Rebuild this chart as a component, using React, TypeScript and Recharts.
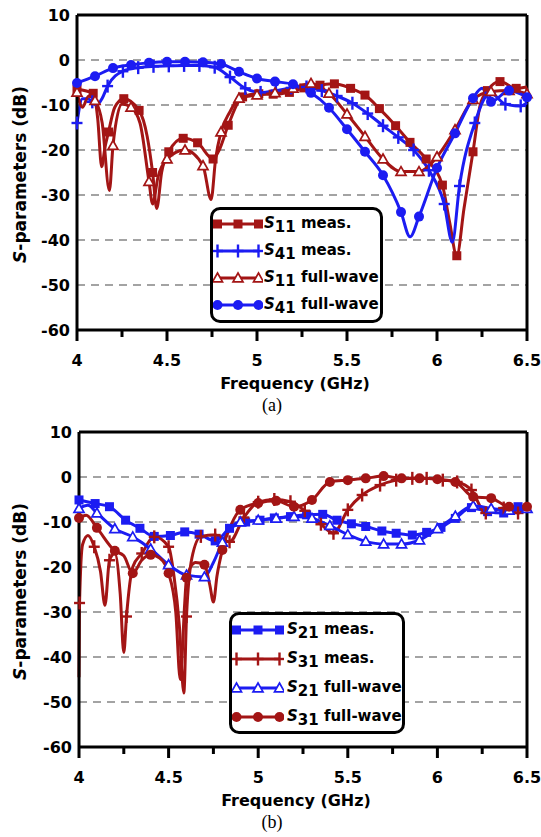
import React from 'react';
import { LineChart, Line, XAxis, YAxis, CartesianGrid, ReferenceLine, Legend } from 'recharts';

type P = [number, number];
type MarkerKind = 'square' | 'cross' | 'triangle' | 'circle';

const RED = '#A31515';
const BLUE = '#1C1CF2';
const FONT = '"DejaVu Sans", "Liberation Sans", sans-serif';

const X_TICKS = [4, 4.25, 4.5, 4.75, 5, 5.25, 5.5, 5.75, 6, 6.25, 6.5];
const Y_TICKS = [10, 0, -10, -20, -30, -40, -50, -60];

// ---------- panel (a) ----------
const A_S11_MEAS_MARKS: P[] = [
  [4.0, -6.5], [4.09, -7.4], [4.175, -16], [4.26, -8.6], [4.345, -11.2], [4.42, -25], [4.51, -20.4],
  [4.59, -17.4], [4.67, -18.4], [4.756, -22], [4.84, -14.5], [4.92, -8.2], [5.01, -7.5], [5.09, -7.6],
  [5.18, -7.2], [5.26, -6.2], [5.35, -5.6], [5.43, -5.3], [5.52, -6.3], [5.6, -7.8], [5.68, -10.8],
  [5.77, -14.6], [5.85, -18.3], [5.94, -22], [6.03, -27.8], [6.11, -43.5], [6.2, -20.4], [6.28, -6.8],
  [6.35, -4.8], [6.44, -6.3],
];
const A_S11_MEAS_EXTRA: P[] = [
  [4.115, -13], [4.137, -23.7], [4.155, -19.5], [4.21, -10.5], [4.39, -17], [4.443, -33], [4.47, -25],
  [4.79, -20], [6.07, -36], [6.15, -33], [6.24, -10], [6.5, -6],
];
const A_S41_MEAS_MARKS: P[] = [
  [4.0, -14], [4.085, -9.3], [4.17, -5.8], [4.255, -2.5], [4.34, -1.7], [4.425, -1.4], [4.51, -1.3],
  [4.595, -1.2], [4.68, -1.2], [4.765, -1.6], [4.85, -3.8], [4.935, -6.3], [5.02, -7.2], [5.105, -6.8],
  [5.19, -6.2], [5.275, -6.0], [5.36, -6.8], [5.445, -8], [5.53, -9.6], [5.615, -11.9], [5.7, -14.6],
  [5.785, -17.2], [5.87, -20], [5.955, -24.5], [6.04, -32], [6.125, -28], [6.21, -14], [6.295, -7.3],
  [6.38, -9.8], [6.465, -10.2],
];
const A_S41_MEAS_EXTRA: P[] = [
  [4.03, -8.6], [4.06, -8.6], [4.11, -10], [4.14, -8.5], [6.085, -40.5], [6.5, -9.5],
];
const A_S11_FW_MARKS: P[] = [
  [4.0, -7.2], [4.1, -9], [4.2, -19], [4.3, -10.5], [4.4, -27], [4.5, -22], [4.6, -20], [4.7, -23.5],
  [4.8, -16], [4.9, -8.5], [5.0, -7.8], [5.1, -7.3], [5.2, -6.3], [5.3, -5.2], [5.4, -7.4], [5.5, -12],
  [5.6, -17], [5.7, -22], [5.8, -24.8], [5.9, -24.8], [6.0, -21.5], [6.1, -15.5], [6.2, -8.8], [6.3, -7],
  [6.4, -6.8], [6.5, -7.5],
];
const A_S11_FW_EXTRA: P[] = [
  [4.03, -10.5], [4.065, -8], [4.14, -14], [4.18, -29], [4.25, -9.8], [4.35, -14], [4.42, -32], [4.45, -26],
  [4.745, -31], [4.77, -22], [4.85, -11.5],
];
const A_S41_FW_MARKS: P[] = [
  [4.0, -5.1], [4.1, -3.6], [4.2, -1.8], [4.3, -1.1], [4.4, -0.6], [4.5, -0.4], [4.6, -0.4], [4.7, -0.5],
  [4.8, -0.9], [4.9, -2.6], [5.0, -4.1], [5.1, -4.8], [5.2, -5.4], [5.3, -7.3], [5.4, -10.6], [5.5, -15.4],
  [5.6, -20.4], [5.7, -25.6], [5.8, -33.8], [5.9, -34.8], [6.0, -24], [6.1, -16.3], [6.2, -8.5], [6.3, -9.3],
  [6.4, -6.8], [6.5, -8.3],
];
const A_S41_FW_EXTRA: P[] = [[5.85, -39.3], [6.25, -6.3]];

// ---------- panel (b) ----------
const B_S21_MEAS_MARKS: P[] = [
  [4.0, -5.1], [4.09, -5.9], [4.17, -6.6], [4.26, -9.6], [4.34, -11.4], [4.42, -13.2], [4.51, -13],
  [4.59, -12.2], [4.67, -12.7], [4.76, -14.2], [4.84, -11.4], [4.93, -10], [5.01, -9.6], [5.09, -9.1],
  [5.18, -8.8], [5.27, -8.4], [5.36, -8.3], [5.44, -9.6], [5.52, -10.4], [5.6, -11], [5.69, -12],
  [5.77, -12.5], [5.86, -12.9], [5.94, -12.3], [6.02, -11.2], [6.1, -9.2], [6.19, -6.8], [6.28, -7.7],
  [6.37, -8], [6.45, -6.6],
];
const B_S21_MEAS_EXTRA: P[] = [[6.5, -6.5]];
const B_S31_MEAS_MARKS: P[] = [
  [4.003, -28], [4.085, -15.5], [4.17, -18.5], [4.265, -31], [4.35, -17], [4.42, -13.3], [4.5, -15.5],
  [4.6, -31], [4.68, -13.2], [4.76, -12.9], [4.84, -14.4], [4.92, -9], [5.0, -5.6], [5.09, -5], [5.18, -5.5],
  [5.26, -7.5], [5.35, -10.5], [5.42, -12.5], [5.5, -7.3], [5.58, -4], [5.68, -1.8], [5.77, -0.7],
  [5.86, -0.3], [5.94, -0.3], [6.03, -0.7], [6.11, -1.1], [6.19, -2.9], [6.27, -8], [6.37, -6.9], [6.45, -8],
];
const B_S31_MEAS_EXTRA: P[] = [
  [4.0, -44.5], [4.02, -15], [4.05, -13], [4.12, -21], [4.145, -28.5], [4.2, -17], [4.23, -26], [4.25, -39],
  [4.3, -20], [4.53, -22], [4.56, -33], [4.585, -48], [4.63, -18], [6.5, -7],
];
const B_S21_FW_MARKS: P[] = [
  [4.0, -7], [4.1, -8], [4.2, -11.5], [4.3, -13.3], [4.4, -16], [4.5, -19.5], [4.6, -21.8], [4.7, -22.2],
  [4.8, -14.5], [4.9, -10], [5.0, -9.6], [5.1, -9.2], [5.2, -8.8], [5.3, -9.2], [5.4, -10.8], [5.5, -12.8],
  [5.6, -14.3], [5.7, -14.9], [5.8, -14.9], [5.9, -14], [6.0, -11.5], [6.1, -8.7], [6.2, -6.4], [6.3, -7],
  [6.4, -7.4], [6.5, -7],
];
const B_S21_FW_EXTRA: P[] = [[4.05, -6.3], [4.75, -19], [4.85, -11]];
const B_S31_FW_MARKS: P[] = [
  [4.0, -9.1], [4.1, -11.3], [4.2, -16.4], [4.3, -21.4], [4.4, -17.3], [4.5, -21.4], [4.6, -22.4],
  [4.7, -19.5], [4.8, -16.2], [4.9, -7.3], [5.0, -5.8], [5.1, -5.3], [5.2, -6.6], [5.3, -5.1], [5.4, -1.1],
  [5.5, -0.7], [5.6, -0.3], [5.7, 0.2], [5.8, -0.3], [5.9, -0.3], [6.0, -0.5], [6.1, -1.1], [6.2, -4.4],
  [6.3, -4.7], [6.4, -6.6], [6.5, -6.6],
];
const B_S31_FW_EXTRA: P[] = [
  [4.04, -8.5], [4.25, -17.5], [4.35, -18.5], [4.45, -18], [4.54, -30], [4.565, -45], [4.59, -28],
  [4.65, -19], [4.73, -24], [4.75, -27.8], [4.77, -22], [4.85, -10.5],
];

type Series = {
  sub: string;
  label: string;
  color: string;
  marker: MarkerKind;
  marks: P[];
  extra: P[];
};

const A_SERIES: Series[] = [
  { sub: '11', label: 'meas.', color: RED, marker: 'square', marks: A_S11_MEAS_MARKS, extra: A_S11_MEAS_EXTRA },
  { sub: '41', label: 'meas.', color: BLUE, marker: 'cross', marks: A_S41_MEAS_MARKS, extra: A_S41_MEAS_EXTRA },
  { sub: '11', label: 'full-wave', color: RED, marker: 'triangle', marks: A_S11_FW_MARKS, extra: A_S11_FW_EXTRA },
  { sub: '41', label: 'full-wave', color: BLUE, marker: 'circle', marks: A_S41_FW_MARKS, extra: A_S41_FW_EXTRA },
];
const B_SERIES: Series[] = [
  { sub: '21', label: 'meas.', color: BLUE, marker: 'square', marks: B_S21_MEAS_MARKS, extra: B_S21_MEAS_EXTRA },
  { sub: '31', label: 'meas.', color: RED, marker: 'cross', marks: B_S31_MEAS_MARKS, extra: B_S31_MEAS_EXTRA },
  { sub: '21', label: 'full-wave', color: BLUE, marker: 'triangle', marks: B_S21_FW_MARKS, extra: B_S21_FW_EXTRA },
  { sub: '31', label: 'full-wave', color: RED, marker: 'circle', marks: B_S31_FW_MARKS, extra: B_S31_FW_EXTRA },
];

const toRows = (a: P[]) => a.map(([f, v]) => ({ f, v }));
const curveRows = (s: Series) => toRows([...s.marks, ...s.extra].sort((p, q) => p[0] - q[0]));

function Marker({ kind, cx, cy, color }: { kind: MarkerKind; cx: number; cy: number; color: string }) {
  if (cx == null || cy == null || isNaN(cx) || isNaN(cy)) return null;
  switch (kind) {
    case 'square':
      return <rect x={cx - 4.5} y={cy - 4.5} width={9} height={9} fill={color} />;
    case 'circle':
      return <circle cx={cx} cy={cy} r={5} fill={color} />;
    case 'triangle':
      return (
        <path
          d={`M${cx},${cy - 5} L${cx + 5},${cy + 3.8} L${cx - 5},${cy + 3.8} Z`}
          fill="#fff"
          stroke={color}
          strokeWidth={1.7}
        />
      );
    case 'cross':
    default:
      return (
        <g stroke={color} strokeWidth={2.4}>
          <line x1={cx - 5.5} y1={cy} x2={cx + 5.5} y2={cy} />
          <line x1={cx} y1={cy - 6.5} x2={cx} y2={cy + 6.5} />
        </g>
      );
  }
}

const XTick = (props: any) => {
  const { x, y, payload } = props;
  const v = payload.value as number;
  const major = Math.abs(v * 2 - Math.round(v * 2)) < 1e-6;
  return (
    <g>
      <line x1={x} x2={x} y1={y} y2={y + (major ? 11 : 7)} stroke="#000" strokeWidth={3} />
      {major && (
        <text
          x={x}
          y={y + 30}
          textAnchor="middle"
          dominantBaseline="central"
          fontFamily={FONT}
          fontWeight="bold"
          fontSize={16}
          fill="#000"
        >
          {String(v)}
        </text>
      )}
    </g>
  );
};

const YTick = (props: any) => {
  const { x, y, payload } = props;
  return (
    <text
      x={x}
      y={y}
      textAnchor="end"
      dominantBaseline="central"
      fontFamily={FONT}
      fontWeight="bold"
      fontSize={16}
      fill="#000"
    >
      {String(payload.value)}
    </text>
  );
};

const YTitle = (props: any) => {
  const vb = props.viewBox || { x: 0, y: 15, width: 77, height: 315 };
  const cx = vb.x + 20;
  const cy = vb.y + vb.height / 2 + 2;
  return (
    <text
      x={cx}
      y={cy}
      transform={`rotate(-90, ${cx}, ${cy})`}
      textAnchor="middle"
      dominantBaseline="central"
      fontFamily={FONT}
      fontWeight="bold"
      fontSize={17}
      fill="#000"
    >
      <tspan fontStyle="italic">S</tspan>
      <tspan>-parameters (dB)</tspan>
    </text>
  );
};

const XTitle = (props: any) => {
  const vb = props.viewBox || { x: 77, y: 330, width: 450, height: 70 };
  return (
    <text
      x={vb.x + vb.width / 2 - 7}
      y={vb.y + 53}
      textAnchor="middle"
      dominantBaseline="central"
      fontFamily={FONT}
      fontWeight="bold"
      fontSize={16}
      fill="#000"
    >
      Frequency (GHz)
    </text>
  );
};

function LegendBox({ series, width, height, rowH, sampleW, textGap }: {
  series: Series[]; width: number; height: number; rowH: number; sampleW: number; textGap: number;
}) {
  const m0 = 4.5;
  const m2 = sampleW - 4.5;
  const m1 = (m0 + m2) / 2;
  return (
    <div
      style={{
        boxSizing: 'border-box',
        width,
        height,
        border: '3px solid #000',
        borderRadius: 10,
        background: '#fff',
        fontFamily: FONT,
        fontWeight: 'bold',
        fontSize: 15,
        color: '#000',
        lineHeight: 1,
      }}
    >
      {series.map((s, i) => (
        <div key={i} style={{ display: 'flex', alignItems: 'center', height: rowH, whiteSpace: 'nowrap' }}>
          <svg width={sampleW} height={16} style={{ display: 'block', flex: 'none' }}>
            <line x1={m0} x2={m2} y1={8} y2={8} stroke={s.color} strokeWidth={3} />
            <Marker kind={s.marker} cx={m0} cy={8} color={s.color} />
            <Marker kind={s.marker} cx={m1} cy={8} color={s.color} />
            <Marker kind={s.marker} cx={m2} cy={8} color={s.color} />
          </svg>
          <span style={{ marginLeft: textGap }}>
            <span style={{ fontStyle: 'italic' }}>S</span>
            <span style={{ position: 'relative', top: 4 }}>{s.sub}</span>
            <span>{' ' + s.label}</span>
          </span>
        </div>
      ))}
    </div>
  );
}

function Panel({ series, yAxisWidth, legend }: {
  series: Series[];
  yAxisWidth: number;
  legend: { left: number; top: number; width: number; height: number; rowH: number; sampleW: number; textGap: number };
}) {
  return (
    <LineChart width={541} height={400} margin={{ top: 15, right: 14, bottom: 0, left: 0 }}>
      <CartesianGrid horizontal vertical={false} stroke="#858585" strokeDasharray="8 6" strokeWidth={1.6} />
      <XAxis
        type="number"
        dataKey="f"
        domain={[4, 6.5]}
        ticks={X_TICKS}
        interval={0}
        height={70}
        tickSize={0}
        tickMargin={0}
        tickLine={false}
        axisLine={{ stroke: '#000', strokeWidth: 3 }}
        tick={(p: any) => <XTick {...p} />}
        label={(p: any) => <XTitle {...p} />}
      />
      <YAxis
        type="number"
        domain={[-60, 10]}
        ticks={Y_TICKS}
        interval={0}
        width={yAxisWidth}
        tickSize={0}
        tickMargin={7}
        tickLine={false}
        axisLine={{ stroke: '#000', strokeWidth: 3 }}
        tick={(p: any) => <YTick {...p} />}
        label={(p: any) => <YTitle {...p} />}
      />
      <ReferenceLine y={10} stroke="#000" strokeWidth={3} />
      <ReferenceLine x={6.5} stroke="#000" strokeWidth={3} />
      {series.map((s, i) => (
        <Line
          key={`c${i}`}
          data={curveRows(s)}
          dataKey="v"
          type="monotone"
          stroke={s.color}
          strokeWidth={3}
          dot={false}
          activeDot={false}
          legendType="none"
          isAnimationActive={false}
        />
      ))}
      {series.map((s, i) => (
        <Line
          key={`m${i}`}
          data={toRows(s.marks)}
          dataKey="v"
          stroke="none"
          legendType="none"
          activeDot={false}
          isAnimationActive={false}
          dot={(p: any) => (
            <g key={`d${i}-${p.index}`}>
              <Marker kind={s.marker} cx={p.cx} cy={p.cy} color={s.color} />
            </g>
          )}
        />
      ))}
      <Legend
        layout="vertical"
        align="center"
        verticalAlign="middle"
        wrapperStyle={{ left: legend.left, top: legend.top, width: legend.width, height: legend.height }}
        content={() => (
          <LegendBox
            series={series}
            width={legend.width}
            height={legend.height}
            rowH={legend.rowH}
            sampleW={legend.sampleW}
            textGap={legend.textGap}
          />
        )}
      />
    </LineChart>
  );
}

const captionStyle: React.CSSProperties = {
  position: 'absolute',
  left: 0,
  width: 544,
  textAlign: 'center',
  fontFamily: '"Liberation Serif", "DejaVu Serif", serif',
  fontSize: 18,
  lineHeight: '20px',
  color: '#000',
};

export default function App() {
  return (
    <div style={{ position: 'absolute', left: 0, top: 0, width: 541, height: 837, background: '#fff' }}>
      <div style={{ position: 'absolute', left: 0, top: 0 }}>
        <Panel
          series={A_SERIES}
          yAxisWidth={77}
          legend={{ left: 210, top: 207, width: 173, height: 116, rowH: 27, sampleW: 50, textGap: 1 }}
        />
      </div>
      <div style={{ ...captionStyle, top: 395 }}>(a)</div>
      <div style={{ position: 'absolute', left: 0, top: 417 }}>
        <Panel
          series={B_SERIES}
          yAxisWidth={79}
          legend={{ left: 229, top: 195, width: 176, height: 122, rowH: 29, sampleW: 52, textGap: 3 }}
        />
      </div>
      <div style={{ ...captionStyle, top: 812 }}>(b)</div>
    </div>
  );
}
